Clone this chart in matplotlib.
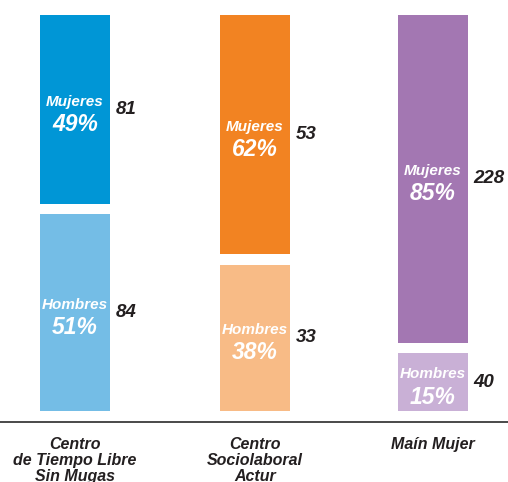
import matplotlib.pyplot as plt

centros = ["Centro\nde Tiempo Libre\nSin Mugas", "Centro\nSociolaboral\nActur", "Maín Mujer"]
mujeres = [81, 53, 228]
hombres = [84, 33, 40]
pct_mujeres = [49, 62, 85]
pct_hombres = [51, 38, 15]
color_mujeres = ["#0096d6", "#f28322", "#a377b2"]
color_hombres = ["#74bde6", "#f8bb86", "#c9b0d6"]

plt.rcParams['font.family'] = ['Liberation Sans', 'DejaVu Sans']

W, H = 508, 482
fig = plt.figure(figsize=(W / 100, H / 100), dpi=100)
# axes spans full width; bottom at the baseline line, top at bar tops
ax = fig.add_axes([0, (H - 422) / H, 1, (422 - 15) / H])

gap = 2.75          # white gap between the two segments (in % units)
pad = 2.85          # space between bar bottom and baseline
width = 70 / 179
x = [0, 1.006, 2.0]

ax.set_xlim(-75 / 179, (W - 75) / 179)
ax.set_ylim(-pad, 100 + gap)
ax.axis('off')
ax.axhline(-pad, color='#3a3a3a', lw=1.3, clip_on=False)

dark = '#231f20'
for i in range(len(centros)):
    hb = pct_hombres[i]
    ht = pct_mujeres[i]
    ax.bar(x[i], hb, width=width, bottom=0, color=color_hombres[i], linewidth=0)
    ax.bar(x[i], ht, width=width, bottom=hb + gap, color=color_mujeres[i], linewidth=0)

    yc_b = hb / 2
    yc_t = hb + gap + ht / 2
    for yc, name, pct, n in [(yc_t, "Mujeres", pct_mujeres[i], mujeres[i]),
                             (yc_b, "Hombres", pct_hombres[i], hombres[i])]:
        ax.annotate(name, (x[i], yc), xytext=(0, 5.5), textcoords='offset points',
                    ha='center', va='center', color='white', fontsize=11,
                    fontweight='bold', fontstyle='italic')
        ax.annotate("%d%%" % pct, (x[i], yc), xytext=(0, -10.8), textcoords='offset points',
                    ha='center', va='center', color='white', fontsize=16.5,
                    fontweight='bold', fontstyle='italic')
        ax.annotate(str(n), (x[i] + width / 2, yc), xytext=(4, 0), textcoords='offset points',
                    ha='left', va='center', color=dark, fontsize=13.5,
                    fontweight='bold', fontstyle='italic')

    ax.annotate(centros[i], (x[i], -pad), xytext=(0, -11), textcoords='offset points',
                ha='center', va='top', color=dark, fontsize=11.5, linespacing=1.08,
                fontweight='bold', fontstyle='italic', annotation_clip=False)

fig.savefig('out.png', dpi=100)
